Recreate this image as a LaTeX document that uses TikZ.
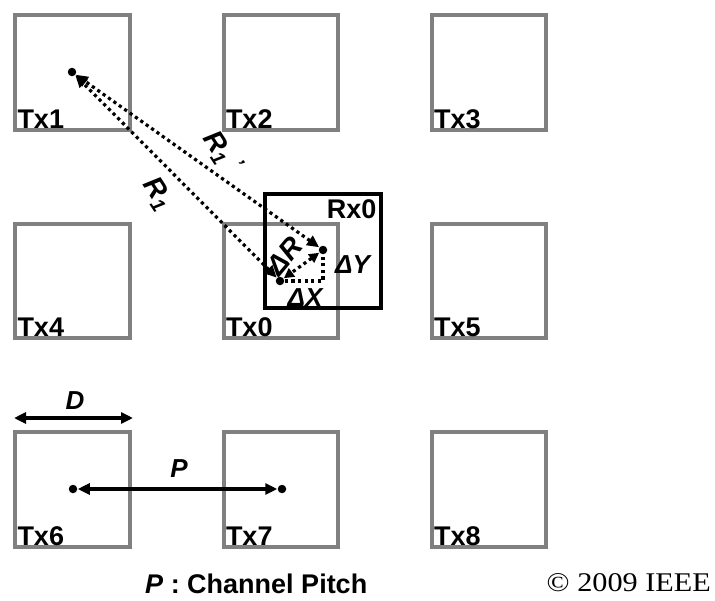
\documentclass[tikz,border=0pt]{standalone}
\usepackage{fontspec}
\setmainfont{Liberation Sans}
\newfontfamily\ieeefont{Liberation Serif}
\usetikzlibrary{arrows.meta}
\definecolor{txgray}{RGB}{128,128,128}
\begin{document}
\begin{tikzpicture}[x=1pt,y=-1pt,
  txbox/.style={draw=txgray, line width=3.8pt, rectangle, minimum width=114.4pt, minimum height=114.4pt, inner sep=0pt, outer sep=0pt},
  rxbox/.style={draw=black, line width=3.8pt, rectangle, minimum width=115.7pt, minimum height=114.3pt, inner sep=0pt, outer sep=0pt},
  txlabel/.style={font=\fontsize{27}{30}\selectfont\bfseries, inner sep=0pt, anchor=base west},
  lbl/.style={font=\fontsize{26}{28}\selectfont\bfseries\itshape, inner sep=0pt},
  rlbl/.style={font=\fontsize{28}{30}\selectfont\bfseries\itshape, inner sep=0pt},
  dotn/.style={circle, fill=black, minimum size=8.5pt, inner sep=0pt, outer sep=0.5pt},
  dotline/.style={line width=3.2pt, dash pattern=on 3.2pt off 3.4pt},
  solidarrow/.style={line width=3.2pt, {Triangle[length=12pt,width=11pt]}-{Triangle[length=12pt,width=11pt]}}
]
\useasboundingbox (0,0) rectangle (715,600);
% transmitter boxes
\node[txbox] (tx1) at (72.5,72.5) {};
\node[txbox] (tx2) at (281,72.5) {};
\node[txbox] (tx3) at (489,72.5) {};
\node[txbox] (tx4) at (72.5,281) {};
\node[txbox] (tx0) at (281,281) {};
\node[txbox] (tx5) at (489,281) {};
\node[txbox] (tx6) at (72.5,489.5) {};
\node[txbox] (tx7) at (281,489.5) {};
\node[txbox] (tx8) at (489,489.5) {};
\foreach \n/\t in {tx1/Tx1,tx2/Tx2,tx3/Tx3,tx4/Tx4,tx0/Tx0,tx5/Tx5,tx6/Tx6,tx7/Tx7,tx8/Tx8}
  \node[txlabel] (\n lab) at ([xshift=2pt,yshift=1.7pt]\n.south west) {\t};
% receiver box
\node[rxbox] (rx) at (323.2,251.2) {};
\node[font=\fontsize{27}{30}\selectfont\bfseries, inner sep=0pt, anchor=north east] (rxlab) at ([xshift=-4.5pt,yshift=-5pt]rx.north east) {Rx0};
% dots
\node[dotn] (d1) at (72,72) {};
\node[dotn] (d0) at (280,281) {};
\node[dotn] (drx) at (323,250) {};
\node[dotn] (d6) at (73,489) {};
\node[dotn] (d7) at (282,489) {};
% dotted distances
\draw[dotline, {Triangle[length=12pt,width=11pt]}-{Triangle[length=12pt,width=11pt]}] (d0) -- (d1);
\draw[dotline, {Triangle[length=12pt,width=11pt]}-{Triangle[length=12pt,width=11pt]}] (drx) -- (d1);
\draw[dotline, {Triangle[length=10pt,width=10pt]}-{Triangle[length=10pt,width=10pt]}] (drx) -- (d0);
\draw[dotline] (d0) -| (drx);
% labels
\node[rlbl, rotate=-57] (r1) at (157,194) {R\textsubscript{1}};
\node[rlbl, rotate=-57] (r1p) at (222,152) {R\textsubscript{1}\textsuperscript{\,\,'}};
\node[rlbl, rotate=50] (dr) at (285,256) {ΔR};
\node[lbl, anchor=base] (dy) at (352.5,273) {ΔY};
\node[lbl, anchor=base] (dx) at (305,306) {ΔX};
% D and P
\coordinate (dl) at (14,418);
\coordinate (dr2) at (133,418);
\draw[solidarrow] (dl) -- (dr2);
\node[lbl, anchor=base] (dlab) at (75,409) {D};
\draw[solidarrow] (d6) -- (d7);
\node[lbl, anchor=base] (plab) at (179,477) {P};
% caption
\node[font=\fontsize{27}{30}\selectfont\bfseries, inner sep=0pt, anchor=base west] (cap) at (145,593) {\textit{P} : Channel Pitch};
\node[font=\fontsize{27}{30}\selectfont\ieeefont, inner sep=0pt, anchor=base east] (ieee) at (711,591) {\scalebox{1.12}[1]{© 2009 IEEE}};
\end{tikzpicture}
\end{document}
